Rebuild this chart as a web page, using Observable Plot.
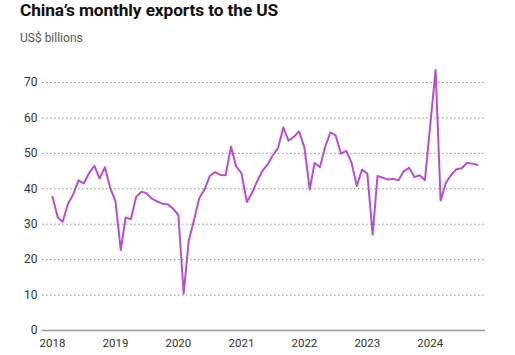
<!DOCTYPE html>
<html>
<head>
<meta charset="utf-8">
<script src="https://cdn.jsdelivr.net/npm/d3@7"></script>
<script src="https://cdn.jsdelivr.net/npm/@observablehq/plot@0.6"></script>
<style>
  html, body { margin: 0; padding: 0; background: #fff; }
  body { width: 515px; height: 355px; overflow: hidden; font-family: Roboto, "Noto Sans", sans-serif; }
  #title { position: absolute; left: 20px; top: 0px; font-size: 17.3px; font-weight: 700; color: #111; letter-spacing: -0.1px; }
  #subtitle { position: absolute; left: 20px; top: 31px; font-size: 12px; color: #555; }
  #chart { position: absolute; left: 0; top: 52px; }
</style>
</head>
<body>
<div id="title">China’s monthly exports to the US</div>
<div id="subtitle">US$ billions</div>
<div id="chart"></div>
<script>
const startMonth = "2018-01-01";
const values2018 = [37.7, 31.9, 30.7, 35.8, 38.4, 42.4, 41.5, 44.4, 46.5, 42.9, 46.1, 40.3];
const values2019 = [36.5, 22.7, 31.9, 31.4, 37.7, 39.2, 38.7, 37.2, 36.4, 35.8, 35.6, 34.4];
const values2020 = [32.6, 10.4, 25.3, 31.2, 37.3, 39.8, 43.6, 44.7, 43.9, 43.8, 51.9, 46.3];
const values2021 = [44.4, 36.3, 38.6, 42.0, 45.0, 46.8, 49.4, 51.5, 57.3, 53.6, 54.7, 56.2];
const values2022 = [51.7, 39.8, 47.3, 46.1, 51.8, 55.9, 55.1, 49.9, 50.7, 47.4, 40.8, 45.4];
const values2023 = [44.3, 27.1, 43.6, 43.1, 42.6, 42.8, 42.4, 45.0, 45.9, 43.3, 43.8, 42.4];
const values2024 = [58.0, 73.5, 36.7, 41.7, 43.9, 45.5, 45.8, 47.3, 47.1, 46.7];
const yTicks = [0, 10, 20, 30, 40, 50, 60, 70];
const xTickYears = [2018, 2019, 2020, 2021, 2022, 2023, 2024];

const allValues = [].concat(values2018, values2019, values2020, values2021, values2022, values2023, values2024);
const start = new Date(startMonth);
const data = allValues.map((v, i) => ({ date: d3.utcMonth.offset(start, i), value: v }));
const xTicks = xTickYears.map(y => new Date(Date.UTC(y, 0, 1)));

const chart = Plot.plot({
  width: 515,
  height: 303,
  marginLeft: 42,
  marginRight: 30,
  marginTop: 30,
  marginBottom: 25,
  style: { fontFamily: "Roboto, 'Noto Sans', sans-serif", fontSize: "12px", color: "#333", background: "transparent" },
  x: { type: "utc", domain: [data[0].date, data[data.length - 1].date], insetLeft: 10, insetRight: 8 },
  y: { domain: [0, 70] },
  marks: [
    Plot.gridY(yTicks.filter(d => d !== 0), { stroke: "#666", strokeOpacity: 0.75, strokeDasharray: "1.5,2.5", strokeWidth: 1 }),
    Plot.ruleY([0], { stroke: "#999", strokeWidth: 1.5 }),
    Plot.axisY(yTicks, { tickSize: 0, tickPadding: 5, label: null, fontSize: 12, fill: "#333" }),
    Plot.axisX(xTicks, { tickSize: 0, tickPadding: 8, label: null, tickFormat: d3.utcFormat("%Y"), fontSize: 11.5, fill: "#333" }),
    Plot.lineY(data, { x: "date", y: "value", stroke: "#b44fd2", strokeWidth: 2 })
  ]
});
document.getElementById("chart").appendChild(chart);
</script>
</body>
</html>
